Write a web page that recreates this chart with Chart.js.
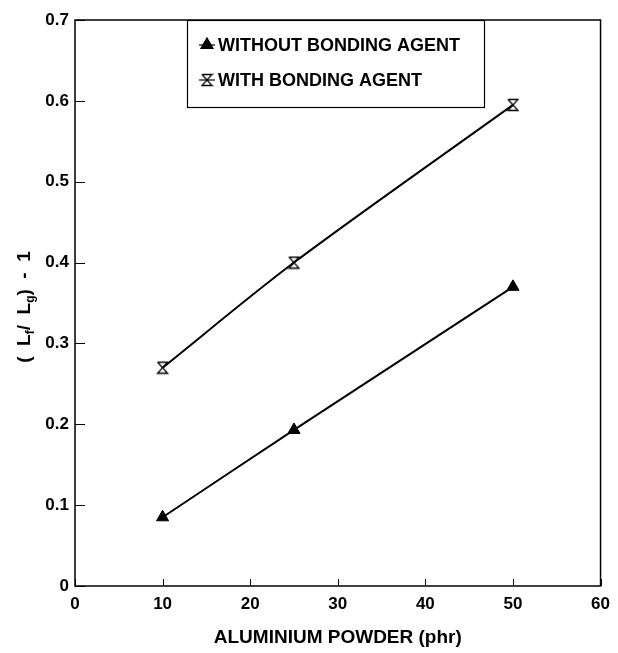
<!DOCTYPE html>
<html>
<head>
<meta charset="utf-8">
<script src="https://cdn.jsdelivr.net/npm/chart.js@4/dist/chart.umd.min.js"></script>
<style>
  html, body { margin: 0; padding: 0; background: #fff; }
  #wrap { width: 618px; height: 653px; }
</style>
</head>
<body>
<div id="wrap"><canvas id="chartContainer" width="618" height="653"></canvas></div>
<script>
// data
const powder = [10, 25, 50];
const withoutAgent = [0.085, 0.193, 0.37];
const withAgent = [0.27, 0.40, 0.595];
const xTicks = [0, 10, 20, 30, 40, 50, 60];
const yTicks = [0, 0.1, 0.2, 0.3, 0.4, 0.5, 0.6, 0.7];
const seriesNames = ['WITHOUT BONDING AGENT', 'WITH BONDING AGENT'];

const FONT = 'Liberation Sans, Arial, sans-serif';

// hourglass marker (open)
function hourglass() {
  const c = document.createElement('canvas');
  c.width = 13; c.height = 14;
  const g = c.getContext('2d');
  g.strokeStyle = '#000';
  g.lineWidth = 1.3;
  g.beginPath();
  g.moveTo(1.5, 1.5); g.lineTo(11.5, 1.5);
  g.lineTo(1.5, 12.5); g.lineTo(11.5, 12.5);
  g.lineTo(1.5, 1.5);
  g.stroke();
  return c;
}
const hgMarker = hourglass();

// box round plot area, inward ticks, y title with subscripts, framed legend
const framePlugin = {
  id: 'frame',
  afterDraw(chart) {
    const ctx = chart.ctx;
    const a = chart.chartArea;
    const xs = chart.scales.x, ys = chart.scales.y;
    ctx.save();
    ctx.strokeStyle = '#000';
    ctx.lineWidth = 1.5;
    ctx.strokeRect(a.left, a.top, a.right - a.left, a.bottom - a.top);
    ctx.lineWidth = 1;
    ctx.beginPath();
    xTicks.forEach(v => {
      const px = Math.round(xs.getPixelForValue(v)) + 0.5;
      ctx.moveTo(px, a.bottom); ctx.lineTo(px, a.bottom - 7);
    });
    yTicks.forEach(v => {
      const py = Math.round(ys.getPixelForValue(v)) + 0.5;
      ctx.moveTo(a.left, py); ctx.lineTo(a.left + 10, py);
    });
    ctx.stroke();

    // y title: ( Lf/ Lg) - 1
    ctx.translate(30, (a.top + a.bottom) / 2 + 4);
    ctx.rotate(-Math.PI / 2);
    ctx.fillStyle = '#000';
    ctx.textBaseline = 'alphabetic';
    const big = 'bold 19px ' + FONT, small = 'bold 12px ' + FONT;
    const parts = [['(  L', big, 0], ['f', small, 4], ['/  L', big, 0], ['g', small, 4], [')  -  1', big, 0]];
    let w = 0;
    parts.forEach(p => { ctx.font = p[1]; w += ctx.measureText(p[0]).width; });
    let x = -w / 2;
    parts.forEach(p => {
      ctx.font = p[1];
      ctx.fillText(p[0], x, p[2]);
      x += ctx.measureText(p[0]).width;
    });
    ctx.restore();

    // legend
    ctx.save();
    ctx.strokeStyle = '#000';
    ctx.lineWidth = 1.2;
    ctx.strokeRect(187.5, 20.5, 297, 87);
    ctx.font = 'bold 18px ' + FONT;
    ctx.fillStyle = '#000';
    ctx.textBaseline = 'middle';
    const rows = [45, 80];
    chart.data.datasets.forEach((ds, i) => {
      const y = rows[i];
      ctx.beginPath();
      ctx.lineWidth = 1.2;
      ctx.moveTo(199, y); ctx.lineTo(215, y);
      ctx.stroke();
      Chart.helpers.drawPoint(ctx, {
        pointStyle: ds.pointStyle, radius: ds.pointRadius, rotation: 0, borderWidth: 1
      }, 207, y);
      if (ds.pointStyle === 'triangle') { ctx.fillStyle = '#000'; ctx.fill(); }
      ctx.fillText(ds.label, 218, y + 1);
    });
    ctx.restore();
  }
};

new Chart(document.getElementById('chartContainer').getContext('2d'), {
  type: 'line',
  data: {
    datasets: [
      {
        label: seriesNames[0],
        data: powder.map((p, i) => ({ x: p, y: withoutAgent[i] })),
        borderColor: '#000',
        backgroundColor: '#000',
        borderWidth: 2,
        pointStyle: 'triangle',
        pointRadius: 7,
        pointBorderWidth: 1,
        tension: 0.3,
        fill: false
      },
      {
        label: seriesNames[1],
        data: powder.map((p, i) => ({ x: p, y: withAgent[i] })),
        borderColor: '#000',
        backgroundColor: '#fff',
        borderWidth: 2,
        pointStyle: hgMarker,
        pointRadius: 6,
        tension: 0.3,
        fill: false
      }
    ]
  },
  plugins: [framePlugin],
  options: {
    responsive: false,
    animation: false,
    layout: { padding: { top: 20, right: 15, left: 0, bottom: 0 } },
    plugins: {
      legend: { display: false },
      tooltip: { enabled: false }
    },
    scales: {
      x: {
        type: 'linear',
        min: 0, max: 60,
        afterBuildTicks: s => { s.ticks = xTicks.map(v => ({ value: v })); },
        afterFit: s => { s.height = 67; },
        grid: { display: false, drawTicks: false },
        border: { display: false },
        ticks: { color: '#000', padding: 8, font: { family: FONT, size: 17, weight: 'bold' } },
        title: {
          display: true,
          text: 'ALUMINIUM POWDER (phr)',
          color: '#000',
          font: { family: FONT, size: 19, weight: 'bold' },
          padding: { top: 14 }
        }
      },
      y: {
        min: 0, max: 0.7,
        afterBuildTicks: s => { s.ticks = yTicks.map(v => ({ value: v })); },
        afterFit: s => { s.width = 75; },
        grid: { display: false, drawTicks: false },
        border: { display: false },
        ticks: {
          color: '#000', padding: 6,
          font: { family: FONT, size: 17, weight: 'bold' },
          callback: v => v === 0 ? '0' : v.toFixed(1)
        }
      }
    }
  }
});
</script>
</body>
</html>
